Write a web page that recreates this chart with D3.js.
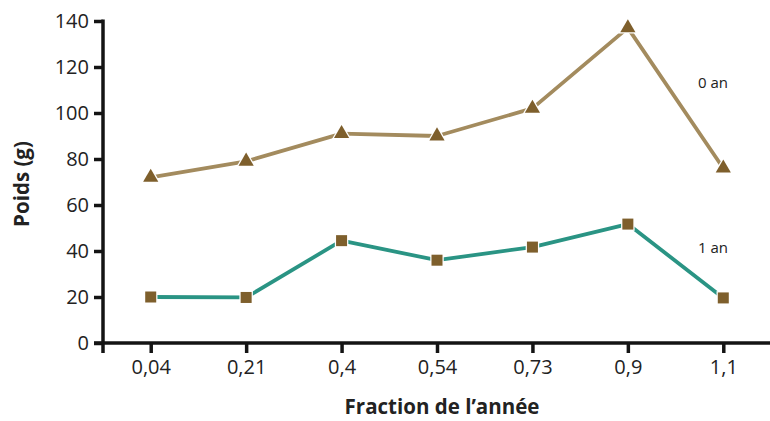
<!DOCTYPE html>
<html><head><meta charset="utf-8">
<script src="https://cdn.jsdelivr.net/npm/d3@7"></script>
<style>body{margin:0;background:#fff}svg{display:block}text{font-family:"Open Sans",sans-serif}</style>
</head><body><svg id="c" width="770" height="421"></svg>
<script>
const categories = ["0,04","0,21","0,4","0,54","0,73","0,9","1,1"];
const an0 = [72, 79, 91, 90, 102, 137, 76];
const an1 = [20, 19.8, 44.5, 36, 41.7, 51.7, 19.6];
const yTicks = [0,20,40,60,80,100,120,140];
const seriesNames = ["0 an","1 an"];

const svg = d3.select("#c");
const x = d3.scalePoint().domain(categories).range([103, 771]).padding(0.5);
const y = d3.scaleLinear().domain([0,140]).range([343, 21]);

const yAx = svg.append("g").attr("transform","translate(103,0)")
  .call(d3.axisLeft(y).tickValues(yTicks).tickSize(9).tickPadding(5));
const xAx = svg.append("g").attr("transform","translate(0,343)")
  .call(d3.axisBottom(x).tickSize(10).tickPadding(7));
[yAx,xAx].forEach(g=>{
  g.select(".domain").remove();
  g.selectAll("line").attr("stroke","#141414").attr("stroke-width",3.5);
  g.selectAll("text").attr("fill","#222").style("font-size","20px");
});
svg.append("line").attr("x1",103).attr("x2",103).attr("y1",19.5).attr("y2",353)
  .attr("stroke","#141414").attr("stroke-width",3.5);
svg.append("line").attr("x1",94).attr("x2",770).attr("y1",343).attr("y2",343)
  .attr("stroke","#141414").attr("stroke-width",3.5);

const line = d3.line().x((d,i)=>x(categories[i])).y(d=>y(d));
svg.append("path").datum(an0).attr("d",line).attr("fill","none")
  .attr("stroke","#a38b5e").attr("stroke-width",3.8).attr("stroke-linejoin","round");
svg.append("path").datum(an1).attr("d",line).attr("fill","none")
  .attr("stroke","#2a9484").attr("stroke-width",3.8).attr("stroke-linejoin","round");

const tri = d3.symbol().type(d3.symbolTriangle).size(100);
svg.selectAll(".t").data(an0).enter().append("path")
  .attr("d",tri).attr("transform",(d,i)=>`translate(${x(categories[i])},${y(d)})`)
  .attr("fill","#7e5f2c").attr("stroke","#fff").attr("stroke-width",2.5).attr("paint-order","stroke");
svg.selectAll(".s").data(an1).enter().append("rect")
  .attr("x",(d,i)=>x(categories[i])-5.5).attr("y",d=>y(d)-5.5)
  .attr("width",11).attr("height",11)
  .attr("fill","#7e5f2c").attr("stroke","#fff").attr("stroke-width",2.5).attr("paint-order","stroke");

svg.append("text").attr("x",713).attr("y",88).attr("text-anchor","middle")
  .style("font-size","15px").attr("fill","#222").text(seriesNames[0]);
svg.append("text").attr("x",713).attr("y",253).attr("text-anchor","middle")
  .style("font-size","15px").attr("fill","#222").text(seriesNames[1]);

svg.append("text").attr("x",442).attr("y",414).attr("text-anchor","middle")
  .style("font-size","20.5px").style("font-weight","bold").attr("fill","#222").text("Fraction de l’année");
svg.append("text").attr("transform","translate(29,184) rotate(-90)").attr("text-anchor","middle")
  .style("font-size","20.5px").style("font-weight","bold").attr("fill","#222").text("Poids (g)");
</script></body></html>
